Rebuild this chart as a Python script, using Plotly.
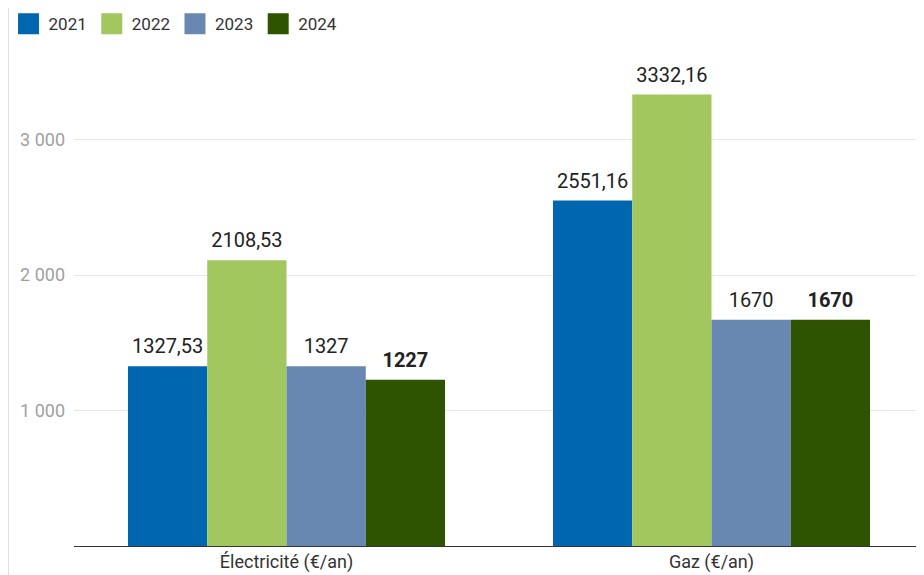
import plotly.graph_objects as go

categories = ["Électricité (€/an)", "Gaz (€/an)"]
years = ["2021", "2022", "2023", "2024"]
v2021 = [1327.53, 2551.16]
v2022 = [2108.53, 3332.16]
v2023 = [1327, 1670]
v2024 = [1227, 1670]
series = [v2021, v2022, v2023, v2024]
colors = ["#0066AF", "#A2C75F", "#6988B1", "#2E5401"]
tick_vals = [1000, 2000, 3000]

def fmt(v):
    return ("%g" % v).replace(".", ",")

fig = go.Figure()
for i, (yr, vals, col) in enumerate(zip(years, series, colors)):
    fig.add_trace(go.Bar(
        x=categories, y=vals, name=yr, marker=dict(color=col, line=dict(width=0)),
        showlegend=False, offsetgroup=str(i),
    ))
for i, (yr, vals, col) in enumerate(zip(years, series, colors)):
    texts = [fmt(v) for v in vals]
    if yr == "2024":
        texts = ["<b>%s</b>" % t for t in texts]
    fig.add_trace(go.Scatter(
        x=categories, y=vals, mode="markers+text", name=yr, text=texts,
        textposition="top center", cliponaxis=False,
        textfont=dict(family="Roboto", size=20, color="#222222"),
        marker=dict(symbol="square", size=11, color=col, opacity=0),
        showlegend=False, hoverinfo="skip", offsetgroup=str(i), alignmentgroup="t",
    ))
for i, (yr, col) in enumerate(zip(years, colors)):
    fig.add_trace(go.Scatter(
        x=[None], y=[None], mode="markers", name=yr,
        marker=dict(symbol="square", size=16, color=col, line=dict(color=col, width=6)),
        showlegend=True, offsetgroup=str(i), alignmentgroup="t",
    ))

W, H = 916, 567  # page body adds 8px offset
fig.update_layout(
    width=W, height=H,
    margin=dict(l=66, r=0, t=32, b=29, autoexpand=False),
    paper_bgcolor="white", plot_bgcolor="white",
    barmode="group", bargap=0.254, bargroupgap=0,
    scattermode="group", scattergap=0.254,
    separators=", ",
    font=dict(family="Roboto", color="#333333"),
    legend=dict(orientation="h", x=-0.077, y=1.067, xanchor="left", yanchor="top",
                font=dict(family="Roboto", size=17, color="#333333"),
                itemsizing="trace", tracegroupgap=0, itemwidth=30),
    xaxis=dict(range=[-0.5, 1.5], showgrid=False, showline=True, linecolor="#333333",
               linewidth=1, ticks="", ticklabelstandoff=-1,
               tickfont=dict(family="Roboto", size=18, color="#333333")),
    yaxis=dict(range=[0, 3735], tickvals=tick_vals, tickformat=",d", showgrid=True,
               gridcolor="#E8E8E8", zeroline=False, showline=False, ticks="",
               tickfont=dict(family="Roboto", size=18, color="#A0A0A0"), ticklabelstandoff=8),
    shapes=[dict(type="line", xref="paper", yref="paper", x0=-66/850, x1=-66/850,
                 y0=-29/506, y1=1 + 32/506, line=dict(color="#E0E0E0", width=2))],
)

fig.write_html("out.html")
